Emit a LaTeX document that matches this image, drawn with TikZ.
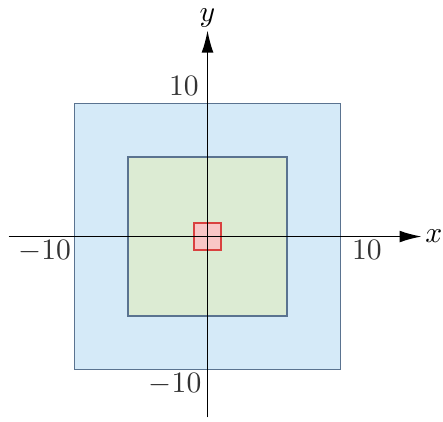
\documentclass[tikz,border=0pt]{standalone}
\usetikzlibrary{arrows.meta}
\definecolor{outerblue}{HTML}{D5EAF8}
\definecolor{innergreen}{HTML}{DCEBD3}
\definecolor{edgeblue}{HTML}{5A7390}
\definecolor{boxpink}{HTML}{F9C6C6}
\definecolor{boxred}{HTML}{D9413F}
\begin{document}
\begin{tikzpicture}[x=0.158cm,y=0.158cm,
    region/.style={line width=0.6pt},
    axis/.style={line width=0.55pt,-{Latex[length=7.5pt,width=4pt]}},
    ticklabel/.style={inner sep=1pt,font=\normalsize,text=black!80}]
  \def \outer {10}
  \def \inner {6}
  \def \small {1}

  \useasboundingbox (-15.6,-13.87) rectangle (17.7,17.78);

  \draw[region,fill=outerblue,draw=edgeblue] (-\outer,-\outer) rectangle (\outer,\outer);
  \draw[region,fill=innergreen,draw=edgeblue] (-\inner,-\inner) rectangle (\inner,\inner);
  \draw[region,fill=boxpink,draw=boxred] (-\small,-\small) rectangle (\small,\small);

  \coordinate (xmin) at (-14.95,0);
  \coordinate (xmax) at (16.1,0);
  \coordinate (ymin) at (0,-13.6);
  \coordinate (ymax) at (0,15.5);
  \draw[axis] (xmin)--(xmax);
  \draw[axis] (ymin)--(ymax);
  \node (xlabel) [right,inner sep=1pt] at (xmax) {$x$};
  \node (ylabel) [above,inner sep=1pt] at (ymax) {$y$};

  \node (xplus) [ticklabel,below right] at (\outer+0.6,0) {10};
  \node (xminus) [ticklabel,below left] at (-\outer,0) {$-$10};
  \node (yplus) [ticklabel,above left] at (-0.4,\outer+0.3) {10};
  \node (yminus) [ticklabel,below left] at (-0.2,-\outer) {$-$10};
\end{tikzpicture}
\end{document}
